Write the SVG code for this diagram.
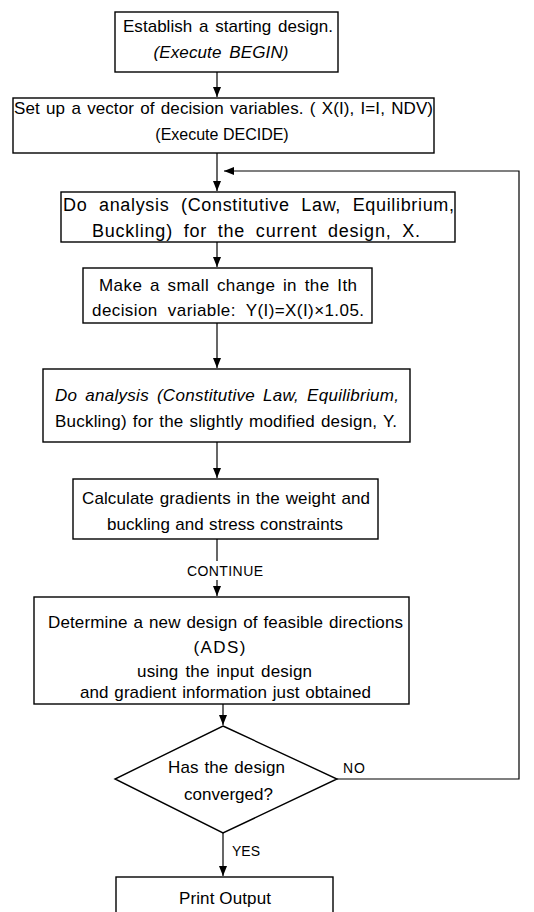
<svg xmlns="http://www.w3.org/2000/svg" width="534" height="912" viewBox="0 0 534 912">
<defs>
<marker id="ah" markerWidth="11" markerHeight="10" refX="10" refY="4" orient="auto" markerUnits="userSpaceOnUse">
<path d="M0,0 L10,4 L0,8 Z" fill="#000"/>
</marker>
<style>
.box{fill:#fff;stroke:#000;stroke-width:1.4}
.t{font-family:"Liberation Sans",Arial,sans-serif;font-size:17px;fill:#000;text-anchor:middle}
.i{font-style:italic}
.c{fill:none;stroke:#000;stroke-width:1.2}
</style>
</defs>
<rect width="534" height="912" fill="#fff"/>
<g id="connectors">
<line class="c" x1="217" y1="72" x2="217" y2="97" marker-end="url(#ah)"/>
<line class="c" x1="217" y1="153" x2="217" y2="191" marker-end="url(#ah)"/>
<polyline class="c" points="337,779 519,779 519,171 224,171" marker-end="url(#ah)"/>
<line class="c" x1="217" y1="242" x2="217" y2="267" marker-end="url(#ah)"/>
<line class="c" x1="217" y1="323" x2="217" y2="368" marker-end="url(#ah)"/>
<line class="c" x1="217" y1="442" x2="217" y2="478" marker-end="url(#ah)"/>
<line class="c" x1="217" y1="539" x2="217" y2="561"/>
<line class="c" x1="217" y1="580" x2="217" y2="596" marker-end="url(#ah)"/>
<text class="t" x="225" y="576" textLength="76" lengthAdjust="spacing" style="font-size:14px">CONTINUE</text>
<line class="c" x1="223" y1="704" x2="223" y2="725" marker-end="url(#ah)"/>
<line class="c" x1="223" y1="833" x2="223" y2="876" marker-end="url(#ah)"/>
<text class="t" x="354" y="773" textLength="22" lengthAdjust="spacing" style="font-size:14px">NO</text>
<text class="t" x="246" y="856" textLength="28" lengthAdjust="spacing" style="font-size:14px">YES</text>
</g>
<g id="n1">
<rect class="box" x="115" y="12" width="223" height="60"/>
<text class="t" x="228" y="32" word-spacing="2" textLength="210" lengthAdjust="spacing">Establish a starting design.</text>
<text class="t i" x="221" y="58" word-spacing="3" textLength="135" lengthAdjust="spacing">(Execute BEGIN)</text>
</g>
<g id="n2">
<rect class="box" x="13" y="98" width="421" height="55"/>
<text class="t" x="223.5" y="114" word-spacing="1.5" textLength="419" lengthAdjust="spacing">Set up a vector of decision variables. ( X(I), I=I, NDV)</text>
<text class="t" x="222" y="140" style="font-size:16px">(Execute DECIDE)</text>
</g>
<g id="n3">
<rect class="box" x="61" y="192" width="394" height="50"/>
<text class="t" x="258.5" y="211" style="font-size:18px" word-spacing="6" textLength="391" lengthAdjust="spacing">Do analysis (Constitutive Law, Equilibrium,</text>
<text class="t" x="256" y="237" style="font-size:18px" word-spacing="5" textLength="328" lengthAdjust="spacing">Buckling) for the current design, X.</text>
</g>
<g id="n4">
<rect class="box" x="83" y="268" width="289" height="55"/>
<text class="t" x="228" y="291" word-spacing="2.5" textLength="258" lengthAdjust="spacing">Make a small change in the Ith</text>
<text class="t" x="228" y="316" word-spacing="5" textLength="272" lengthAdjust="spacing">decision variable: Y(I)=X(I)×1.05.</text>
</g>
<g id="n5">
<rect class="box" x="43" y="369" width="367" height="73"/>
<text class="t i" x="227" y="401" word-spacing="3" textLength="344" lengthAdjust="spacing">Do analysis (Constitutive Law, Equilibrium,</text>
<text class="t" x="226" y="427" word-spacing="1" textLength="342" lengthAdjust="spacing">Buckling) for the slightly modified design, Y.</text>
</g>
<g id="n6">
<rect class="box" x="73" y="479" width="305" height="60"/>
<text class="t" x="226" y="504" word-spacing="1" textLength="288" lengthAdjust="spacing">Calculate gradients in the weight and</text>
<text class="t" x="225" y="530" word-spacing="0.5" textLength="236" lengthAdjust="spacing">buckling and stress constraints</text>
</g>
<g id="n7">
<rect class="box" x="34" y="597" width="375" height="107"/>
<text class="t" x="225.5" y="628" word-spacing="1" textLength="355" lengthAdjust="spacing">Determine a new design of feasible directions</text>
<text class="t" x="219.5" y="653" textLength="52" lengthAdjust="spacing">(ADS)</text>
<text class="t" x="224.5" y="677" word-spacing="2" textLength="175" lengthAdjust="spacing">using the input design</text>
<text class="t" x="225.5" y="698" word-spacing="1" textLength="291" lengthAdjust="spacing">and gradient information just obtained</text>
</g>
<g id="n8">
<polygon class="box" points="223,726 337,779 223,833 115,779"/>
<text class="t" x="226.5" y="773" word-spacing="1" textLength="117" lengthAdjust="spacing">Has the design</text>
<text class="t" x="228.5" y="800">converged?</text>
</g>
<g id="n9">
<rect class="box" x="116" y="877" width="217" height="50"/>
<text class="t" x="225" y="904" textLength="92" lengthAdjust="spacing">Print Output</text>
</g>
</svg>
